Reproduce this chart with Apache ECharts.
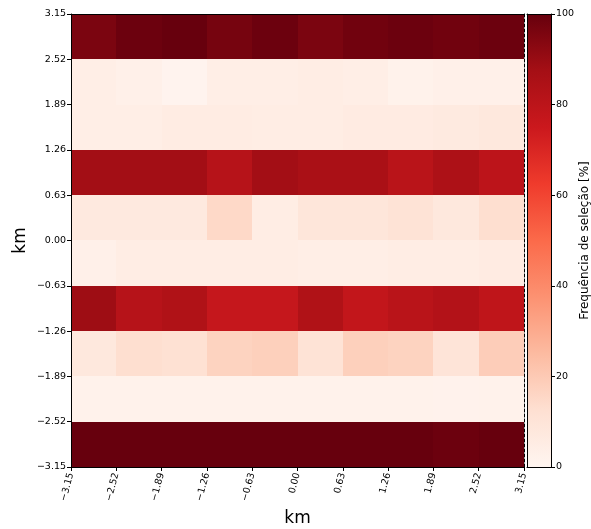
<!DOCTYPE html>
<html>
<head>
<meta charset="utf-8">
<script src="https://cdn.jsdelivr.net/npm/echarts@6/dist/echarts.min.js"></script>
<style>html,body{margin:0;padding:0;background:#fff;}#c{width:591px;height:529px;}</style>
</head>
<body>
<div id="c"></div>
<script>
// Bin lower edges (km) and bin width
const xEdges = [-3.15, -2.52, -1.89, -1.26, -0.63, 0.00, 0.63, 1.26, 1.89, 2.52];
const yEdges = [-3.15, -2.52, -1.89, -1.26, -0.63, 0.00, 0.63, 1.26, 1.89, 2.52];
const binWidth = 0.63;
// Selection frequency [%] per row (row lower edge in name), columns left to right
const row_m315 = [100, 100, 100, 100, 100, 100, 100, 100, 99, 100];
const row_m252 = [2, 2, 2, 2, 2, 2, 2, 2, 1.5, 2];
const row_m189 = [8, 13, 12, 17, 18, 11, 18, 17, 10, 19];
const row_m126 = [89, 82, 84, 77, 77, 84, 78, 81, 83, 79];
const row_m063 = [3, 5, 5, 5, 5, 4, 4, 5, 5, 6];
const row_p000 = [7, 7, 7, 15, 5, 9, 9, 11, 8, 13];
const row_p063 = [88, 88, 88, 82, 88, 86, 86, 81, 85, 80];
const row_p126 = [4, 4, 5.5, 5.5, 5, 5, 6, 6, 6.5, 8];
const row_p189 = [4, 3, 1, 4, 4, 5, 4, 2, 3, 3];
const row_p252 = [96, 99, 100, 97, 99, 96, 98, 99, 98, 99];
const rows = [row_m315, row_m252, row_m189, row_m126, row_m063, row_p000, row_p063, row_p126, row_p189, row_p252];
const axisTicks = [-3.15, -2.52, -1.89, -1.26, -0.63, 0.00, 0.63, 1.26, 1.89, 2.52, 3.15];
const cbarTicks = [0, 20, 40, 60, 80, 100];

const reds = ['#fff5f0', '#fee0d2', '#fcbba1', '#fc9272', '#fb6a4a', '#ef3b2c', '#cb181d', '#a50f15', '#67000d'];

const data = [];
rows.forEach((r, j) => r.forEach((v, i) => data.push([xEdges[i], yEdges[j], v])));

function fmt(v) {
  if (Math.abs(v) < 1e-9) return '0.00';
  return (v < 0 ? '\u2212' : '') + Math.abs(v).toFixed(2);
}

const FONT = 'DejaVu Sans';
const chart = echarts.init(document.getElementById('c'), null, {renderer: 'canvas'});
const tickLabel = {fontFamily: FONT, fontSize: 9.5, color: '#000'};

const option = {
  animation: false,
  backgroundColor: '#fff',
  grid: [
    {left: 71, top: 14, width: 453, height: 453, containLabel: false, outerBoundsMode: 'none'},
    {left: 527, top: 14, width: 24, height: 453, containLabel: false, outerBoundsMode: 'none'}
  ],
  visualMap: {
    show: false, type: 'continuous', min: 0, max: 100, dimension: 2, seriesIndex: 0,
    inRange: {color: reds}
  },
  xAxis: [
    {
      gridIndex: 0, type: 'value', position: 'bottom', min: -3.15, max: 3.15, interval: 0.63,
      axisLine: {show: true, onZero: false, lineStyle: {color: '#000', width: 1}},
      axisTick: {show: true, inside: false, length: 4, lineStyle: {color: '#000'}},
      axisLabel: Object.assign({rotate: 75, margin: 6, formatter: fmt}, tickLabel),
      splitLine: {show: false},
      name: 'km', nameLocation: 'middle', nameGap: 43, nameMoveOverlap: false,
      nameTextStyle: {fontFamily: FONT, fontSize: 17, color: '#000'},
      z: 10
    },
    {
      gridIndex: 0, type: 'value', position: 'top', min: -3.15, max: 3.15,
      axisLine: {show: true, onZero: false, lineStyle: {color: '#000', width: 1}},
      axisTick: {show: false}, axisLabel: {show: false}, splitLine: {show: false}, z: 10
    },
    {
      gridIndex: 1, type: 'value', position: 'bottom', min: 0, max: 1,
      axisLine: {show: true, onZero: false, lineStyle: {color: '#000', width: 1}},
      axisTick: {show: false}, axisLabel: {show: false}, splitLine: {show: false}, z: 10
    },
    {
      gridIndex: 1, type: 'value', position: 'top', min: 0, max: 1,
      axisLine: {show: true, onZero: false, lineStyle: {color: '#000', width: 1}},
      axisTick: {show: false}, axisLabel: {show: false}, splitLine: {show: false}, z: 10
    }
  ],
  yAxis: [
    {
      gridIndex: 0, type: 'value', position: 'left', min: -3.15, max: 3.15, interval: 0.63,
      axisLine: {show: true, onZero: false, lineStyle: {color: '#000', width: 1}},
      axisTick: {show: true, inside: false, length: 4, lineStyle: {color: '#000'}},
      axisLabel: Object.assign({margin: 5, formatter: fmt}, tickLabel),
      splitLine: {show: false},
      name: 'km', nameLocation: 'middle', nameGap: 50, nameRotate: 90, nameMoveOverlap: false,
      nameTextStyle: {fontFamily: FONT, fontSize: 17, color: '#000', verticalAlign: 'middle'},
      z: 10
    },
    {
      gridIndex: 0, type: 'value', position: 'right', min: -3.15, max: 3.15,
      axisLine: {show: true, onZero: false, lineStyle: {color: '#000', width: 1, type: [3, 2]}},
      axisTick: {show: false}, axisLabel: {show: false}, splitLine: {show: false}, z: 10
    },
    {
      gridIndex: 1, type: 'value', position: 'left', min: 0, max: 100,
      axisLine: {show: true, onZero: false, lineStyle: {color: '#000', width: 1}},
      axisTick: {show: false}, axisLabel: {show: false}, splitLine: {show: false}, z: 10
    },
    {
      gridIndex: 1, type: 'value', position: 'right', min: 0, max: 100, interval: 20,
      axisLine: {show: true, onZero: false, lineStyle: {color: '#000', width: 1}},
      axisTick: {show: true, inside: false, length: 4, lineStyle: {color: '#000'}},
      axisLabel: Object.assign({margin: 5}, tickLabel),
      splitLine: {show: false},
      name: 'Frequência de seleção [%]', nameLocation: 'middle', nameGap: 28, nameRotate: 90, nameMoveOverlap: false,
      nameTextStyle: {fontFamily: FONT, fontSize: 12, color: '#000', verticalAlign: 'top'},
      z: 10
    }
  ],
  series: [
    {
      type: 'custom', xAxisIndex: 0, yAxisIndex: 0,
      data: data,
      encode: {x: 0, y: 1},
      renderItem: function (params, api) {
        const x0 = api.value(0), y0 = api.value(1);
        const p0 = api.coord([x0, y0 + binWidth]);
        const p1 = api.coord([x0 + binWidth, y0]);
        const left = Math.round(p0[0]), top = Math.round(p0[1]);
        const right = Math.round(p1[0]), bottom = Math.round(p1[1]);
        return {
          type: 'rect',
          shape: {x: left, y: top, width: right - left, height: bottom - top},
          style: {fill: api.visual('color'), stroke: null}
        };
      }
    },
    {
      type: 'custom', xAxisIndex: 2, yAxisIndex: 2,
      data: [[0, 0]],
      renderItem: function (params, api) {
        const p0 = api.coord([0, 100]);
        const p1 = api.coord([1, 0]);
        const stops = reds.map((c, k) => ({offset: k / (reds.length - 1), color: c}));
        return {
          type: 'rect',
          shape: {x: p0[0], y: p0[1], width: p1[0] - p0[0], height: p1[1] - p0[1]},
          style: {fill: new echarts.graphic.LinearGradient(0, 1, 0, 0, stops)}
        };
      }
    }
  ]
};
chart.setOption(option);
</script>
</body>
</html>
